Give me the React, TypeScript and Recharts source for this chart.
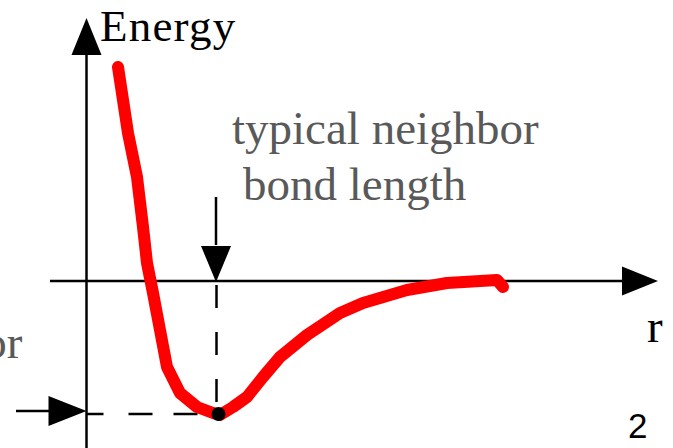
import React from 'react';
import { LineChart, Line, XAxis, YAxis, ReferenceLine, ReferenceDot } from 'recharts';

// Potential energy curve (r, energy)
const rValues = [0.315, 0.365, 0.415, 0.505, 0.565, 0.605, 0.665, 0.735, 0.805, 0.935, 1.105, 1.265, 1.335, 1.465, 1.605, 1.765, 1.935, 2.205, 2.535, 2.765, 3.205, 3.605, 4.105, 4.165];
const energyValues = [2.14, 1.81, 1.48, 1.04, 0.54, 0.18, -0.12, -0.49, -0.86, -1.12, -1.26, -1.32, -1.34, -1.26, -1.16, -0.96, -0.76, -0.54, -0.32, -0.22, -0.09, -0.02, 0.01, -0.06];

// Bond length and well depth marked on the figure
const bondLength = [1.3];
const wellDepth = [-1.33];

const data = rValues.map((r, i) => ({ r, e: energyValues[i] }));

const W = 673;
const H = 448;
const X_DOMAIN: [number, number] = [-0.865, 5.865];
const Y_DOMAIN: [number, number] = [-1.67, 2.81];

const SERIF = '"Liberation Serif", "Times New Roman", serif';
const SANS = '"Liberation Sans", Arial, sans-serif';

type Dir = 'up' | 'down' | 'left' | 'right';
const arrowHead = (dir: Dir, len: number, half: number) => (props: any) => {
  const { cx, cy } = props;
  let pts = '';
  if (dir === 'up') pts = `${cx},${cy} ${cx - half},${cy + len} ${cx + half},${cy + len}`;
  if (dir === 'down') pts = `${cx},${cy} ${cx - half},${cy - len} ${cx + half},${cy - len}`;
  if (dir === 'right') pts = `${cx},${cy} ${cx - len},${cy - half} ${cx - len},${cy + half}`;
  if (dir === 'left') pts = `${cx},${cy} ${cx + len},${cy - half} ${cx + len},${cy + half}`;
  return <polygon points={pts} fill="#000" />;
};

const textShape = (
  value: string,
  opts: { fill: string; size: number; family: string; anchor?: string; spacing?: number }
) => (props: any) => (
  <text
    x={props.cx}
    y={props.cy}
    fill={opts.fill}
    fontSize={opts.size}
    fontFamily={opts.family}
    textAnchor={opts.anchor || 'start'}
    letterSpacing={opts.spacing || 0}
  >
    {value}
  </text>
);

export default function App() {
  const b = bondLength[0];
  const d = wellDepth[0];
  return (
    <div style={{ position: 'absolute', left: 0, top: 0, width: W, height: H, background: '#fff' }}>
      <LineChart width={W} height={H} data={data} margin={{ top: 0, right: 0, bottom: 0, left: 0 }}>
        <XAxis type="number" dataKey="r" domain={X_DOMAIN} allowDataOverflow hide />
        <YAxis type="number" domain={Y_DOMAIN} allowDataOverflow hide />

        {/* axes */}
        <ReferenceLine segment={[{ x: 0, y: -1.67 }, { x: 0, y: 2.27 }]} stroke="#000" strokeWidth={2.5} ifOverflow="visible" />
        <ReferenceDot x={0} y={2.63} ifOverflow="visible" shape={arrowHead('up', 37, 15)} />
        <ReferenceLine segment={[{ x: -0.365, y: 0 }, { x: 5.36, y: 0 }]} stroke="#000" strokeWidth={2.5} ifOverflow="visible" />
        <ReferenceDot x={5.715} y={0} ifOverflow="visible" shape={arrowHead('right', 36, 14.5)} />

        {/* dashed guides */}
        <ReferenceLine segment={[{ x: b, y: -0.04 }, { x: b, y: d }]} stroke="#000" strokeWidth={2.5} strokeDasharray="23 24" ifOverflow="visible" />
        <ReferenceLine segment={[{ x: 0, y: d }, { x: b, y: d }]} stroke="#000" strokeWidth={2.5} strokeDasharray="17 25 24 21 24 22" ifOverflow="visible" />

        {/* bond length pointer */}
        <ReferenceLine segment={[{ x: b - 0.005, y: 0.84 }, { x: b - 0.005, y: 0.36 }]} stroke="#000" strokeWidth={2.5} ifOverflow="visible" />
        <ReferenceDot x={b - 0.005} y={-0.01} ifOverflow="visible" shape={arrowHead('down', 36, 15)} />

        {/* well depth pointer */}
        <ReferenceLine segment={[{ x: -0.705, y: -1.3 }, { x: -0.37, y: -1.3 }]} stroke="#000" strokeWidth={2.5} ifOverflow="visible" />
        <ReferenceDot x={0} y={-1.3} ifOverflow="visible" shape={arrowHead('right', 38, 15)} />

        <Line
          type="linear"
          dataKey="e"
          stroke="#ff0000"
          strokeWidth={12}
          strokeLinecap="round"
          strokeLinejoin="round"
          dot={false}
          activeDot={false}
          isAnimationActive={false}
        />

        <ReferenceDot x={b + 0.02} y={d} r={7} fill="#000" stroke="none" ifOverflow="visible" />

        {/* texts */}
        <ReferenceDot x={0.135} y={2.40} ifOverflow="visible" shape={textShape('Energy', { fill: '#000', size: 45, family: SERIF, spacing: 1.2 })} />
        <ReferenceDot x={1.455} y={1.37} ifOverflow="visible" shape={textShape('typical neighbor', { fill: '#595959', size: 47, family: SERIF })} />
        <ReferenceDot x={1.565} y={0.81} ifOverflow="visible" shape={textShape('bond length', { fill: '#595959', size: 47, family: SERIF })} />
        <ReferenceDot x={5.605} y={-0.61} ifOverflow="visible" shape={textShape('r', { fill: '#000', size: 47, family: SERIF })} />
        <ReferenceDot x={-0.64} y={-0.77} ifOverflow="visible" shape={textShape('or', { fill: '#595959', size: 47, family: SERIF, anchor: 'end' })} />
        <ReferenceDot x={5.415} y={-1.57} ifOverflow="visible" shape={textShape('2', { fill: '#000', size: 35, family: SANS })} />
      </LineChart>
    </div>
  );
}
